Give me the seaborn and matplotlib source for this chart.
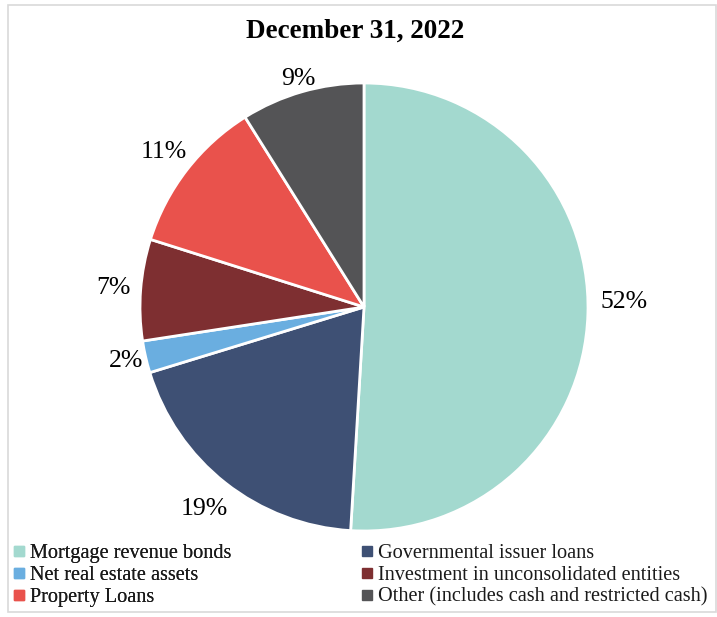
import numpy as np
import matplotlib
matplotlib.use("Agg")
import matplotlib.pyplot as plt
from matplotlib.lines import Line2D
from matplotlib.patches import Rectangle
import seaborn as sns

categories = ["Mortgage revenue bonds", "Governmental issuer loans", "Net real estate assets",
              "Investment in unconsolidated entities", "Property Loans",
              "Other (includes cash and restricted cash)"]
values = [50.9, 19.3, 2.3, 7.3, 11.2, 8.9]
pct_labels = ["52%", "19%", "2%", "7%", "11%", "9%"]
label_dist = [1.16, 1.15, 1.09, 1.12, 1.13, 1.06]
colors = ["#a3d9cf", "#3e5074", "#6aaee0", "#7e2f31", "#e9524c", "#545456"]
title = "December 31, 2022"

sns.set_theme(style="white")
plt.rcParams["font.family"] = ["Liberation Serif", "DejaVu Serif"]

W, H = 717, 617
fig = plt.figure(figsize=(W / 100, H / 100), dpi=100)
cx, cy, R = 364, 307, 224
L = 1.3
side = 2 * R * L
ax = fig.add_axes([(cx - R * L) / W, (H - cy - R * L) / H, side / W, side / H])

pal = sns.color_palette(colors)
wedges, _ = ax.pie(values, colors=pal, startangle=90, counterclock=False,
                   wedgeprops=dict(edgecolor="white", linewidth=2))
for i, (w, lab, d) in enumerate(zip(wedges, pct_labels, label_dist)):
    ang = np.deg2rad((w.theta1 + w.theta2) / 2)
    if i == 0:
        ang = np.deg2rad(1.0)
    ax.text(d * np.cos(ang), d * np.sin(ang), lab, ha="center", va="center",
            fontsize=18.5, color="black")
ax.set_xlim(-L, L)
ax.set_ylim(-L, L)
ax.set_aspect("equal")
ax.axis("off")

fig.text(355 / W, 1 - 31 / H, title, ha="center", va="center", fontsize=19.5,
         fontweight="bold", color="black")

handles = [Line2D([0], [0], marker="s", linestyle="none", markersize=6.5,
                  markerfacecolor=c, markeredgecolor=c) for c in pal]

def make_legend(idx, x):
    lg = fig.legend([handles[i] for i in idx], [categories[i] for i in idx],
                    loc="upper left", bbox_to_anchor=(x / W, 1 - 544 / H),
                    frameon=False, fontsize=14.6, handlelength=0.6,
                    handletextpad=0.25, labelspacing=0.13, borderpad=0,
                    borderaxespad=0)
    for t in lg.get_texts():
        t.set_color("#1a1a1a")
    return lg

lg1 = make_legend([0, 2, 4], 13)
fig.add_artist(lg1)
make_legend([1, 3, 5], 361)

fig.add_artist(Rectangle((7.5 / W, 5 / H), (716 - 7.5) / W, (612 - 5) / H,
                         transform=fig.transFigure, fill=False,
                         edgecolor="#d9d9d9", linewidth=1.2))

fig.savefig("out.png", dpi=100)
